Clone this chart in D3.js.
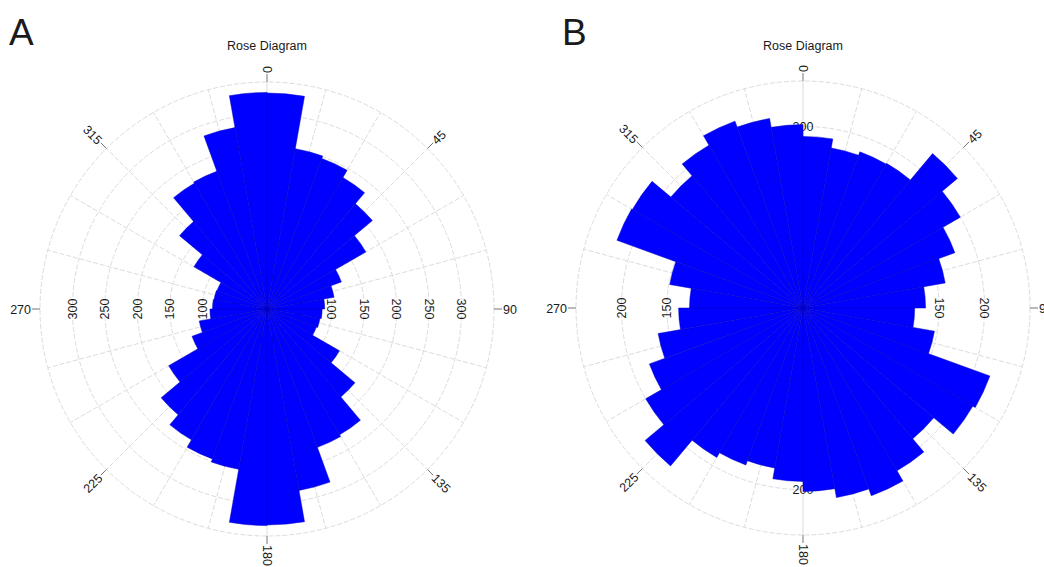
<!DOCTYPE html>
<html>
<head>
<meta charset="utf-8">
<script src="https://cdn.jsdelivr.net/npm/d3@7/dist/d3.min.js"></script>
<style>
    body { margin: 0; background: #fff; }
    text { font-family: "Liberation Sans", Arial, sans-serif; fill: #1a1a1a; }
</style>
</head>
<body>
<div id="chart"></div>
<script>
// start angle (degrees) of each 10 degree bin
var binStarts = [0, 10, 20, 30, 40, 50, 60, 70, 80, 90, 100, 110, 120, 130, 140, 150, 160, 170,
                 180, 190, 200, 210, 220, 230, 240, 250, 260, 270, 280, 290, 300, 310, 320, 330, 340, 350];

// panel A counts per bin
var countsA = [333, 251, 247, 234, 212, 176, 122, 105, 89, 85, 83, 81, 129, 177, 224, 227, 284, 333,
               334, 251, 246, 233, 213, 175, 123, 106, 88, 84, 83, 82, 130, 176, 224, 226, 284, 334];

// panel B counts per bin
var countsB = [189, 179, 183, 184, 222, 200, 178, 159, 135, 123, 147, 219, 216, 188, 207, 220, 212, 202,
               191, 179, 184, 190, 227, 200, 180, 162, 137, 125, 149, 218, 217, 190, 207, 219, 212, 202];

// radial rings
var ringsA = [50, 100, 150, 200, 250, 300, 350];
var ringsB = [50, 100, 150, 200, 250];

// compass labels
var angleLabels = [0, 45, 90, 135, 180, 225, 270, 315];

function drawRose(svg, opt) {
    var R = 227;
    var gridColor = "#dcdcdc";

    var r = d3.scaleLinear().domain([0, d3.max(opt.rings)]).range([0, R]);
    var a = d3.scaleLinear().domain([0, 360]).range([0, 2 * Math.PI]);
    var px = function (rad, deg) { return rad * Math.sin(a(deg)); };
    var py = function (rad, deg) { return -rad * Math.cos(a(deg)); };

    // panel letter and title
    svg.append("text")
        .attr("x", opt.letterX)
        .attr("y", 45)
        .style("font-size", "37px")
        .text(opt.letter);

    svg.append("text")
        .attr("x", opt.cx)
        .attr("y", 50)
        .attr("text-anchor", "middle")
        .style("font-size", "12.5px")
        .text("Rose Diagram");

    var g = svg.append("g")
        .attr("transform", "translate(" + opt.cx + "," + opt.cy + ")");

    // rings
    g.selectAll(".ring")
        .data(opt.rings)
        .enter()
        .append("circle")
        .attr("r", function (d) { return r(d); })
        .attr("fill", "none")
        .attr("stroke", gridColor)
        .attr("stroke-dasharray", "5,2");

    // spokes every 15 degrees (none on the horizontal axis)
    var spokes = d3.range(0, 360, 15).filter(function (d) { return d !== 90 && d !== 270; });
    g.selectAll(".spoke")
        .data(spokes)
        .enter()
        .append("line")
        .attr("x2", function (d) { return px(R, d); })
        .attr("y2", function (d) { return py(R, d); })
        .attr("stroke", gridColor)
        .attr("stroke-dasharray", function (d) { return d % 180 === 0 ? null : "5,2"; });

    // radial value labels on the four axes (drawn under the bars)
    var labelVals = opt.rings.slice(0, -1);
    var axes = [{deg: 0, rot: 0}, {deg: 90, rot: 90}, {deg: 180, rot: 0}, {deg: 270, rot: -90}];
    axes.forEach(function (ax) {
        g.selectAll(null)
            .data(labelVals)
            .enter()
            .append("text")
            .attr("transform", function (d) {
                return "translate(" + px(r(d), ax.deg) + "," + py(r(d), ax.deg) + ") rotate(" + ax.rot + ")";
            })
            .attr("text-anchor", "middle")
            .attr("dy", "0.36em")
            .style("font-size", "12.5px")
            .text(function (d) { return d; });
    });

    // bars
    var bins = binStarts.map(function (s, i) { return {start: s, v: opt.counts[i]}; });
    var arc = d3.arc()
        .innerRadius(0)
        .outerRadius(function (d) { return r(d.v); })
        .startAngle(function (d) { return a(d.start); })
        .endAngle(function (d) { return a(d.start + 10); });

    g.selectAll(".bar")
        .data(bins)
        .enter()
        .append("path")
        .attr("d", arc)
        .attr("fill", "#0000ff")
        .attr("stroke", "#0000c0")
        .attr("stroke-width", 0.5);

    // outer ticks and compass labels
    g.selectAll(".tick")
        .data(angleLabels)
        .enter()
        .append("line")
        .attr("x1", function (d) { return px(R, d); })
        .attr("y1", function (d) { return py(R, d); })
        .attr("x2", function (d) { return px(R + 8, d); })
        .attr("y2", function (d) { return py(R + 8, d); })
        .attr("stroke", "#777");

    g.selectAll(".alabel")
        .data(angleLabels)
        .enter()
        .append("text")
        .attr("transform", function (d) {
            var rot = d > 180 ? d - 270 : d - 90;
            return "translate(" + px(R + 9, d) + "," + py(R + 9, d) + ") rotate(" + rot + ")";
        })
        .attr("text-anchor", function (d) { return d > 180 ? "end" : "start"; })
        .attr("dy", "0.36em")
        .style("font-size", "12.5px")
        .text(function (d) { return d; });
}

function init() {
    var w = 1044;
    var h = 567;

    var svg = d3.select("#chart").append("svg")
        .attr("width", w)
        .attr("height", h)
        .style("background-color", "#fff");

    drawRose(svg, {cx: 267, cy: 309, letter: "A", letterX: 9, counts: countsA, rings: ringsA});
    drawRose(svg, {cx: 803, cy: 308, letter: "B", letterX: 562, counts: countsB, rings: ringsB});
}
window.onload = init;
</script>
</body>
</html>
